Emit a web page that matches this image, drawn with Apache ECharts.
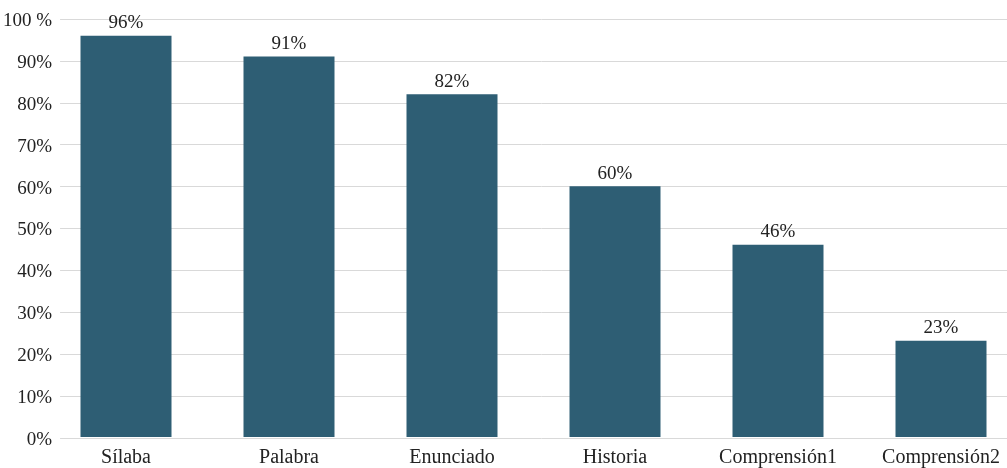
<!DOCTYPE html>
<html>
<head>
<meta charset="utf-8">
<script src="https://cdn.jsdelivr.net/npm/echarts@6/dist/echarts.min.js"></script>
<style>html,body{margin:0;padding:0;background:#fff;overflow:hidden;width:1007px;height:468px}#c{width:1023px;height:468px}</style>
</head>
<body>
<div id="c"></div>
<script>
const categories = ['Sílaba', 'Palabra', 'Enunciado', 'Historia', 'Comprensión1', 'Comprensión2'];
const values = [96, 91, 82, 60, 46, 23];
const yTicks = ['0%', '10%', '20%', '30%', '40%', '50%', '60%', '70%', '80%', '90%', '100 %'];

const FONT = '"Liberation Serif", "DejaVu Serif", serif';
const chart = echarts.init(document.getElementById('c'));
chart.setOption({
  animation: false,
  grid: [
    { left: 60, right: 0, top: 19, bottom: 30, containLabel: false },
    { left: 44.5, right: 0.5, top: 19, bottom: 30, containLabel: false }
  ],
  xAxis: [
    { gridIndex: 0, type: 'category', data: categories, show: false },
    {
      gridIndex: 1, type: 'category', data: categories,
      axisLine: { show: false }, axisTick: { show: false },
      axisLabel: { color: '#222', fontFamily: FONT, fontSize: 20, margin: 11 }
    }
  ],
  yAxis: [
    {
      gridIndex: 0, type: 'value', min: 0, max: 100, interval: 10,
      axisLine: { show: false }, axisTick: { show: false },
      splitLine: { lineStyle: { color: '#d9d9d9', width: 1 } },
      axisLabel: {
        color: '#222', fontFamily: FONT, fontSize: 19, margin: 8,
        formatter: (v) => '{a|' + yTicks[Math.round(v / 10)] + '}',
        rich: { a: { fontFamily: FONT, fontSize: 19, color: '#222', padding: [4, 0, 0, 0] } }
      }
    },
    {
      gridIndex: 1, type: 'value', min: 0, max: 100, interval: 10,
      show: false, splitLine: { show: false }
    }
  ],
  series: [{
    type: 'bar',
    xAxisIndex: 1, yAxisIndex: 1,
    data: values,
    barWidth: 91,
    itemStyle: { color: '#2e5e74' },
    label: {
      show: true, position: 'top', distance: 3,
      color: '#222', fontFamily: FONT, fontSize: 19,
      formatter: (p) => p.value + '%'
    }
  }]
});
</script>
</body>
</html>
